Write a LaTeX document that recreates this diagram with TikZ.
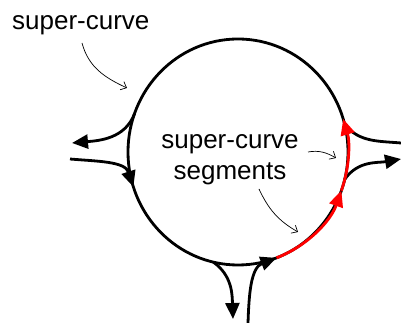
\documentclass[tikz,border=0pt]{standalone}
\usepackage{fontspec}
\setmainfont{Liberation Sans}
\usetikzlibrary{arrows.meta}
\begin{document}
\begin{tikzpicture}[x=1pt,y=1pt,
  curvebase/.style={line width=2.8pt},
  flow/.style={curvebase, -{Triangle[length=16pt,width=14pt]}},
  pointer/.style={line width=0.7pt, -{Straight Barb[length=5pt,width=9pt]}},
  lbl/.style={font=\fontsize{26}{32}\selectfont, inner sep=0pt}]
\useasboundingbox (0,0) rectangle (401,323);
\coordinate (c) at (238,171);
% junction points on the super-curve
\coordinate (jL1) at ([shift={(160:110 and 113)}]c);
\coordinate (jL2) at ([shift={(198:110 and 113)}]c);
\coordinate (jB)  at ([shift={(257:110 and 113)}]c);
\coordinate (jB2) at ([shift={(-69.5:110 and 113)}]c);
\coordinate (jR2) at ([shift={(-14:110 and 113)}]c);
\coordinate (jRm) at ([shift={(-20:110 and 113)}]c);
\coordinate (jR1) at ([shift={(14:110 and 113)}]c);
% free ends
\coordinate (tipL) at (72,180);
\coordinate (inL) at (70,164);
\coordinate (outR1) at (401,180);
\coordinate (tipR) at (401,164);
\coordinate (tipB) at (233,4);
\coordinate (inB) at (248,0);
% super-curve
\draw[curvebase] (c) ellipse[x radius=110, y radius=113];
% branches
\draw[flow] (jL1) to[out=-110,in=5] (tipL);
\draw[flow] (inL) to[out=-5,in=108] (jL2);
\draw[curvebase] (jR1) to[out=-50,in=175] (outR1);
\draw[flow] (jR2) to[out=55,in=190] (tipR);
\draw[flow] (jB) to[out=-35,in=92] (tipB);
\draw[flow] (inB) to[out=88,in=201] (jB2);
% red segments
\draw[flow, red] (jB2) arc[start angle=-69.5, end angle=-20, x radius=110, y radius=113];
\draw[flow, red] (jRm) arc[start angle=-20, end angle=17, x radius=110, y radius=113];
% labels
\node[lbl, anchor=base west] (t1) at (12,293) {super-curve};
\node[lbl, anchor=base] (t2) at (230,174.7) {super-curve};
\node[lbl, anchor=base] (t3) at (230,143) {segments};
% pointers
\coordinate (p1s) at (82,280); \coordinate (p1e) at (127,235);
\coordinate (p2s) at (308,171); \coordinate (p2e) at (336,165);
\coordinate (p3s) at (259,134); \coordinate (p3e) at (298,91);
\draw[pointer] (p1s) to[out=-75,in=155] (p1e);
\draw[pointer] (p2s) to[out=10,in=150] (p2e);
\draw[pointer] (p3s) to[out=-65,in=150] (p3e);
\end{tikzpicture}
\end{document}
